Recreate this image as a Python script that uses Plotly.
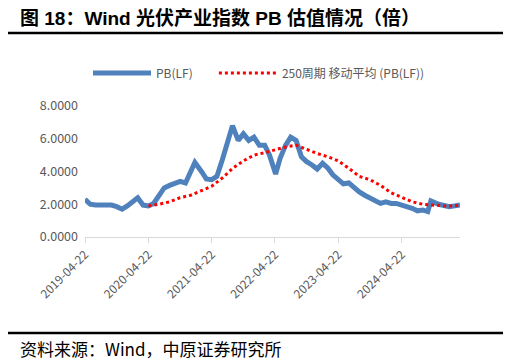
import plotly.graph_objects as go

# PB(LF) series
pb_dates = [
    "2019-04-22", "2019-05-22", "2019-06-22", "2019-07-22", "2019-08-22", "2019-09-22",
    "2019-10-22", "2019-11-22", "2019-12-22", "2020-01-22", "2020-02-20", "2020-03-22",
    "2020-04-22", "2020-05-22", "2020-06-22", "2020-07-22", "2020-08-22", "2020-09-22",
    "2020-10-22", "2020-11-22", "2020-12-22", "2021-01-15", "2021-02-22", "2021-03-22",
    "2021-04-22", "2021-05-22", "2021-06-22", "2021-07-22", "2021-08-20", "2021-09-22",
    "2021-10-22", "2021-11-22", "2021-12-22", "2022-01-22", "2022-02-22", "2022-03-22",
    "2022-04-26", "2022-05-22", "2022-06-22", "2022-07-22", "2022-08-22", "2022-09-22",
    "2022-10-22", "2022-11-22", "2022-12-22", "2023-01-22", "2023-02-22", "2023-03-22",
    "2023-04-22", "2023-05-22", "2023-06-22", "2023-07-22", "2023-08-22", "2023-09-22",
    "2023-10-22", "2023-11-22", "2023-12-22", "2024-01-22", "2024-02-22", "2024-03-22",
    "2024-04-22", "2024-05-22", "2024-06-22", "2024-07-22", "2024-08-22", "2024-09-20",
    "2024-10-08", "2024-11-22", "2024-12-22", "2025-01-22", "2025-02-22", "2025-03-25",
]
pb_values = [
    2.30, 2.00, 1.95, 1.95, 1.90, 1.95,
    1.85, 1.70, 1.90, 2.15, 2.40, 1.95,
    1.90, 2.05, 2.60, 3.00, 3.15, 3.30,
    3.40, 3.30, 4.00, 4.55, 4.00, 3.55,
    3.50, 3.70, 4.70, 5.70, 6.80, 5.90,
    6.30, 5.90, 6.10, 5.60, 5.60, 5.00,
    3.85, 4.80, 5.60, 6.10, 5.90, 4.90,
    4.60, 4.40, 4.15, 4.50, 4.20, 3.80,
    3.55, 3.25, 3.30, 3.00, 2.75, 2.55,
    2.40, 2.25, 2.05, 2.15, 2.05, 2.05,
    1.95, 1.90, 1.75, 1.60, 1.65, 1.55,
    2.20, 2.00, 1.90, 1.85, 1.90, 1.95,
]

# 250-period moving average
ma_dates = [
    "2020-04-22", "2020-06-22", "2020-08-22", "2020-10-22", "2020-12-22", "2021-02-22",
    "2021-04-22", "2021-06-22", "2021-08-22", "2021-10-22", "2021-12-22", "2022-02-22",
    "2022-04-22", "2022-06-22", "2022-08-22", "2022-10-22", "2022-12-22", "2023-02-22",
    "2023-04-22", "2023-06-22", "2023-08-22", "2023-10-22", "2023-12-22", "2024-02-22",
    "2024-04-22", "2024-06-22", "2024-08-22", "2024-10-22", "2024-12-22", "2025-02-22",
    "2025-03-25",
]
ma_values = [
    1.90, 2.00, 2.15, 2.40, 2.55, 2.85,
    3.10, 3.60, 4.20, 4.65, 5.00, 5.15,
    5.30, 5.50, 5.60, 5.35, 5.10, 4.90,
    4.65, 4.20, 3.70, 3.50, 3.15, 2.70,
    2.45, 2.15, 2.00, 1.95, 1.90, 1.90,
    1.95,
]

tick_labels = ["2019-04-22", "2020-04-22", "2021-04-22", "2022-04-22", "2023-04-22", "2024-04-22"]
y_ticks = [0, 2, 4, 6, 8]

FONT = "Noto Sans CJK SC, Liberation Sans, sans-serif"
GRAY = "#595959"
NBSP = "\u00a0"

fig = go.Figure()
fig.add_trace(go.Scatter(
    x=pb_dates, y=pb_values, mode="lines", name="PB(LF)" + NBSP * 6,
    line=dict(color="#4F81BD", width=5),
))
fig.add_trace(go.Scatter(
    x=ma_dates, y=ma_values, mode="lines", name="250周期 移动平均 (PB(LF))",
    line=dict(color="#FF0000", width=3, dash="dot"),
))

# reference plot area pixel geometry: x 85..460, y 106..237
def px(xp):
    return (xp - 85) / 375.0

def py(yp):
    return (237 - yp) / 131.0

# page has an 8px body margin, so the figure is drawn 8px smaller and all positions shift by 8
fig.update_layout(
    width=503, height=353,
    margin=dict(l=77, r=51, t=98, b=124),
    paper_bgcolor="white", plot_bgcolor="white",
    font=dict(family=FONT, color=GRAY, size=12),
    showlegend=True,
    legend=dict(
        orientation="h", x=px(88), xanchor="left", y=py(73), yanchor="middle",
        font=dict(family=FONT, size=12, color=GRAY),
        itemwidth=58, bgcolor="rgba(0,0,0,0)",
    ),
    xaxis=dict(
        type="date", range=["2019-04-22", "2025-03-25"],
        tickvals=tick_labels, ticktext=tick_labels, tickangle=-45,
        showgrid=False, zeroline=False,
        showline=True, linecolor="#D9D9D9", linewidth=1,
        ticks="outside", ticklen=5, tickcolor="#D9D9D9",
        tickfont=dict(family=FONT, size=12, color=GRAY),
    ),
    yaxis=dict(
        range=[0, 8], tickvals=y_ticks, ticktext=[f"{v:.4f}" for v in y_ticks],
        showgrid=False, zeroline=False, showline=False,
        tickfont=dict(family=FONT, size=12.5, color=GRAY),
        ticklabelstandoff=6,
    ),
    annotations=[
        dict(text="<b>图 18：Wind 光伏产业指数 PB 估值情况（倍）</b>",
             xref="paper", yref="paper", x=px(18), y=py(17.5),
             xanchor="left", yanchor="middle", showarrow=False,
             font=dict(family="Liberation Sans, Noto Sans CJK SC", size=19, color="#000000")),
        dict(text="资料来源：Wind，中原证券研究所",
             xref="paper", yref="paper", x=px(18), y=py(348),
             xanchor="left", yanchor="middle", showarrow=False,
             font=dict(family="Noto Sans CJK SC, Liberation Sans", size=17, color="#000000")),
    ],
    shapes=[
        dict(type="line", xref="paper", yref="paper", x0=px(5), x1=px(506),
             y0=py(33), y1=py(33), line=dict(color="#000000", width=2.5)),
        dict(type="line", xref="paper", yref="paper", x0=px(5), x1=px(506),
             y0=py(333), y1=py(333), line=dict(color="#000000", width=2.5)),
    ],
)

fig.write_html("out.html")
